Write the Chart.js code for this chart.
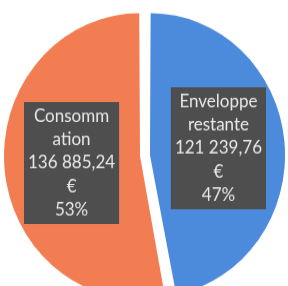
<!DOCTYPE html>
<html>
<head>
<meta charset="utf-8">
<script src="https://cdn.jsdelivr.net/npm/chart.js@4.4.1/dist/chart.umd.min.js"></script>
<style>
  body { margin: 0; background: #fff; }
  /* the scanned pie is a little taller than wide, so the canvas is stretched */
  #pie { display: block; width: 288px; height: 286px; }
</style>
</head>
<body>
<canvas id="pie" width="288" height="272" style="width:288px;height:286px"></canvas>
<script>
const categories = ["Enveloppe restante", "Consommation"];
const values = [121239.76, 136885.24];
// lines as they wrap inside the label boxes
const labelLines = [["Enveloppe", "restante"], ["Consomm", "ation"]];
const sliceColors = ["#4C8BDB", "#F27D52"];

const total = values.reduce((a, b) => a + b, 0);

function formatEuro(v) {
  return v.toLocaleString("fr-FR", { minimumFractionDigits: 2, maximumFractionDigits: 2 })
    .replace(/[\u202f\u00a0]/g, " ");
}

const boxLabels = {
  id: "boxLabels",
  afterDatasetsDraw(chart) {
    const ctx = chart.ctx;
    const meta = chart.getDatasetMeta(0);
    const lineH = 22.2;
    ctx.save();
    ctx.font = "17px Lato";
    ctx.textAlign = "center";
    ctx.textBaseline = "middle";
    meta.data.forEach((arc, i) => {
      const p = arc.getProps(["x", "y", "startAngle", "endAngle", "outerRadius"], true);
      const mid = (p.startAngle + p.endAngle) / 2;
      // arc offset is drawn at a quarter of its value in chart.js 4
      const dist = p.outerRadius * 0.525 + arc.options.offset / 4;
      const cx = p.x + Math.cos(mid) * dist;
      const cy = p.y + Math.sin(mid) * dist;
      const lines = [...labelLines[i], formatEuro(values[i]), "€", Math.round(values[i] / total * 100) + "%"];
      const w = Math.max(...lines.map(l => ctx.measureText(l).width)) + 8;
      const h = lines.length * lineH + 5;
      ctx.fillStyle = "#4E4E4E";
      ctx.fillRect(cx - w / 2, cy - h / 2, w, h);
      ctx.fillStyle = "#E8E8E8";
      lines.forEach((l, k) => {
        ctx.fillText(l, cx, cy - h / 2 + 2.5 + lineH * (k + 0.5));
      });
    });
    ctx.restore();
  }
};

new Chart(document.getElementById("pie"), {
  type: "pie",
  data: {
    labels: categories,
    datasets: [{
      data: values,
      backgroundColor: sliceColors,
      borderWidth: 0,
      offset: 20
    }]
  },
  options: {
    responsive: false,
    devicePixelRatio: 1,
    animation: false,
    radius: 131,
    layout: { padding: { top: 24, left: 2 } },
    plugins: {
      legend: { display: false },
      tooltip: { enabled: false }
    }
  },
  plugins: [boxLabels]
});
</script>
</body>
</html>
